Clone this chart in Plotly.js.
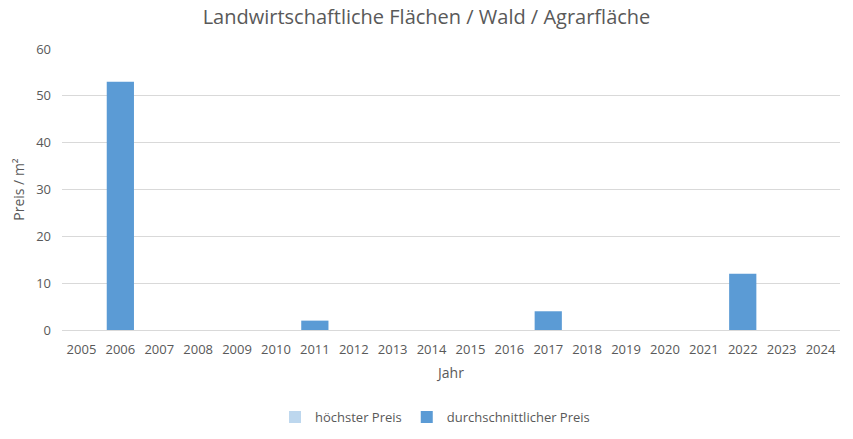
<!DOCTYPE html>
<html>
<head>
<meta charset="utf-8">
<script src="https://cdn.plot.ly/plotly-3.0.1.min.js"></script>
<style>html,body{margin:0;padding:0;background:#fff;}#chart{width:853px;height:439px;}</style>
</head>
<body>
<div id="chart"></div>
<script>
const years = ["2005","2006","2007","2008","2009","2010","2011","2012","2013","2014","2015","2016","2017","2018","2019","2020","2021","2022","2023","2024"];
const hoechsterPreis = [null,null,null,null,null,null,null,null,null,null,null,null,null,null,null,null,null,null,null,null];
const durchschnittPreis = [null,53,null,null,null,null,2,null,null,null,null,null,4,null,null,null,null,12,null,null];

const font = "Open Sans, Liberation Sans, sans-serif";
const grey = "#595959";

const data = [
  {type:"bar", name:"höchster Preis", x:years, y:hoechsterPreis, marker:{color:"#BDD7EE"}},
  {type:"bar", name:"durchschnittlicher Preis", x:years, y:durchschnittPreis, marker:{color:"#5B9BD5"}}
];

const layout = {
  width:853, height:439,
  margin:{l:62, r:13, t:49, b:109},
  paper_bgcolor:"#fff", plot_bgcolor:"#fff",
  font:{family:font, color:grey, size:13},
  title:{text:"Landwirtschaftliche Flächen / Wald / Agrarfläche", font:{size:20, color:grey, family:font}, x:0.5, xanchor:"center", y:0.962, yanchor:"middle"},
  barmode:"overlay",
  bargap:0.3,
  xaxis:{type:"category", automargin:false, showgrid:false, showline:true, linecolor:"#d9d9d9", ticks:"", ticklabelstandoff:7, tickfont:{size:13, color:grey}, title:{text:"Jahr", font:{size:14, color:grey}, standoff:11}, fixedrange:true},
  yaxis:{range:[0,60], automargin:false, dtick:10, showgrid:true, gridcolor:"#d9d9d9", zeroline:true, zerolinecolor:"#d9d9d9", showline:false, ticks:"", ticklabelstandoff:10, tickfont:{size:13, color:grey}, title:{text:"Preis / m²", font:{size:14, color:grey}, standoff:8}},
  legend:{orientation:"h", x:0.51, xanchor:"center", xref:"container", yref:"container", y:0.05, yanchor:"middle", font:{size:13, color:grey}, itemwidth:30},
  showlegend:true
};

Plotly.newPlot("chart", data, layout, {displayModeBar:false, staticPlot:true});
</script>
</body>
</html>
